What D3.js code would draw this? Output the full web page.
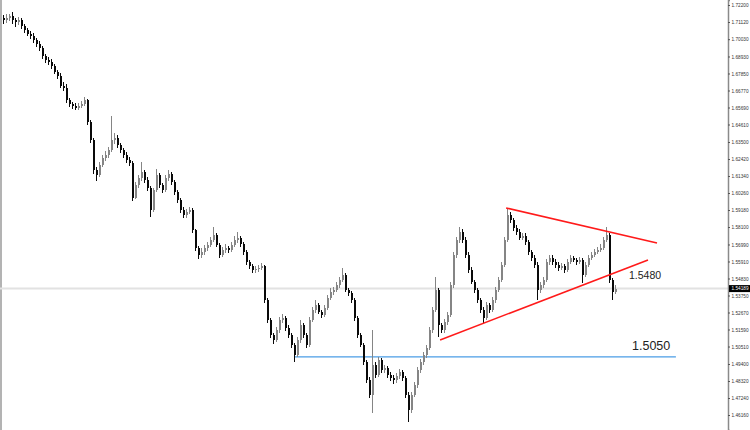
<!DOCTYPE html>
<html><head><meta charset="utf-8">
<script src="https://cdn.jsdelivr.net/npm/d3@7/dist/d3.min.js"></script>
<style>html,body{margin:0;padding:0;background:#fff;overflow:hidden}</style>
</head><body><svg id="c" width="750" height="430"></svg>
<script>
const closes = [
1.7125,1.7137,1.7150,1.7125,1.7112,1.7125,1.7087,1.7061,1.7036,1.7023,
1.6998,1.6972,1.6947,1.6896,1.6871,1.6858,1.6833,1.6795,1.6769,1.6706,
1.6693,1.6617,1.6591,1.6579,1.6566,1.6579,1.6591,1.6617,1.6477,1.6363,
1.6172,1.6141,1.6204,1.6249,1.6268,1.6299,1.6363,1.6376,1.6331,1.6299,
1.6268,1.6236,1.6217,1.5995,1.6077,1.6122,1.6160,1.6109,1.6058,1.5918,
1.6045,1.6141,1.6077,1.6045,1.6122,1.6147,1.6096,1.6033,1.5982,1.5918,
1.5887,1.5906,1.5918,1.5791,1.5677,1.5633,1.5652,1.5677,1.5696,1.5728,
1.5760,1.5696,1.5633,1.5664,1.5677,1.5664,1.5696,1.5728,1.5741,1.5702,
1.5652,1.5588,1.5563,1.5537,1.5543,1.5550,1.5563,1.5347,1.5220,1.5125,
1.5093,1.5156,1.5220,1.5233,1.5169,1.5125,1.5061,1.4998,1.5093,1.5188,
1.5125,1.5061,1.5220,1.5283,1.5315,1.5271,1.5252,1.5296,1.5360,1.5398,
1.5410,1.5442,1.5474,1.5506,1.5410,1.5391,1.5347,1.5233,1.5125,1.5061,
1.4953,1.4839,1.4744,1.4934,1.4871,1.4966,1.4902,1.4915,1.4871,1.4852,
1.4839,1.4864,1.4890,1.4852,1.4744,1.4648,1.4744,1.4807,1.4902,1.4953,
1.4998,1.5042,1.5156,1.5283,1.5410,1.5188,1.5156,1.5207,1.5252,1.5442,
1.5633,1.5728,1.5779,1.5728,1.5633,1.5537,1.5461,1.5410,1.5347,1.5283,
1.5233,1.5315,1.5283,1.5347,1.5410,1.5474,1.5569,1.5728,1.5887,1.5855,
1.5804,1.5779,1.5741,1.5753,1.5715,1.5652,1.5614,1.5569,1.5410,1.5442,
1.5474,1.5588,1.5614,1.5588,1.5569,1.5550,1.5563,1.5537,1.5588,1.5614,
1.5601,1.5588,1.5601,1.5506,1.5569,1.5614,1.5633,1.5652,1.5664,1.5677,
1.5728,1.5760,1.5474,1.5398,1.5419];

const opens = [
1.7137,1.7125,1.7137,1.7150,1.7125,1.7112,1.7125,1.7087,1.7061,1.7036,
1.7023,1.6998,1.6972,1.6947,1.6896,1.6871,1.6858,1.6833,1.6795,1.6769,
1.6706,1.6693,1.6617,1.6591,1.6579,1.6566,1.6579,1.6591,1.6617,1.6477,
1.6363,1.6172,1.6141,1.6204,1.6249,1.6268,1.6299,1.6363,1.6376,1.6331,
1.6299,1.6268,1.6236,1.6217,1.5995,1.6077,1.6122,1.6160,1.6109,1.6058,
1.5918,1.6045,1.6141,1.6077,1.6045,1.6122,1.6147,1.6096,1.6033,1.5982,
1.5918,1.5887,1.5906,1.5918,1.5791,1.5677,1.5633,1.5652,1.5677,1.5696,
1.5728,1.5760,1.5696,1.5633,1.5664,1.5677,1.5664,1.5696,1.5728,1.5741,
1.5702,1.5652,1.5588,1.5563,1.5537,1.5543,1.5550,1.5563,1.5347,1.5220,
1.5125,1.5093,1.5156,1.5220,1.5233,1.5169,1.5125,1.5061,1.4998,1.5093,
1.5188,1.5125,1.5061,1.5220,1.5283,1.5315,1.5271,1.5252,1.5296,1.5360,
1.5398,1.5410,1.5442,1.5474,1.5506,1.5410,1.5391,1.5347,1.5233,1.5125,
1.5061,1.4953,1.4839,1.4744,1.4934,1.4871,1.4966,1.4902,1.4915,1.4871,
1.4852,1.4839,1.4864,1.4890,1.4852,1.4744,1.4648,1.4744,1.4807,1.4902,
1.4953,1.4998,1.5042,1.5156,1.5283,1.5410,1.5188,1.5156,1.5207,1.5252,
1.5442,1.5633,1.5728,1.5779,1.5728,1.5633,1.5537,1.5461,1.5410,1.5347,
1.5283,1.5233,1.5315,1.5283,1.5347,1.5410,1.5474,1.5569,1.5728,1.5887,
1.5855,1.5804,1.5779,1.5741,1.5753,1.5715,1.5652,1.5614,1.5569,1.5410,
1.5442,1.5474,1.5588,1.5614,1.5588,1.5569,1.5550,1.5563,1.5537,1.5588,
1.5614,1.5601,1.5588,1.5601,1.5506,1.5569,1.5614,1.5633,1.5652,1.5664,
1.5677,1.5728,1.5760,1.5474,1.5398];

const highs = [
1.7158,1.7160,1.7165,1.7176,1.7140,1.7145,1.7140,1.7100,1.7075,1.7055,
1.7040,1.7010,1.6990,1.6960,1.6910,1.6890,1.6875,1.6845,1.6810,1.6785,
1.6730,1.6720,1.6630,1.6605,1.6595,1.6600,1.6610,1.6636,1.6625,1.6490,
1.6375,1.6190,1.6225,1.6270,1.6290,1.6320,1.6515,1.6410,1.6395,1.6345,
1.6315,1.6285,1.6255,1.6230,1.6095,1.6140,1.6223,1.6175,1.6125,1.6070,
1.6060,1.6179,1.6155,1.6090,1.6140,1.6172,1.6160,1.6110,1.6045,1.5995,
1.5935,1.5925,1.5937,1.5930,1.5800,1.5690,1.5675,1.5695,1.5715,1.5745,
1.5810,1.5775,1.5710,1.5685,1.5700,1.5690,1.5715,1.5750,1.5779,1.5755,
1.5715,1.5665,1.5600,1.5575,1.5560,1.5570,1.5580,1.5570,1.5360,1.5235,
1.5140,1.5175,1.5240,1.5255,1.5245,1.5185,1.5140,1.5075,1.5110,1.5220,
1.5200,1.5140,1.5240,1.5300,1.5347,1.5330,1.5285,1.5315,1.5380,1.5420,
1.5430,1.5460,1.5495,1.5550,1.5520,1.5425,1.5405,1.5360,1.5245,1.5140,
1.5075,1.4965,1.4855,1.5156,1.4950,1.4985,1.4980,1.4935,1.4930,1.4890,
1.4870,1.4885,1.4910,1.4905,1.4865,1.4760,1.4760,1.4825,1.4920,1.4970,
1.5015,1.5060,1.5175,1.5300,1.5493,1.5425,1.5200,1.5225,1.5270,1.5460,
1.5650,1.5745,1.5810,1.5795,1.5745,1.5650,1.5555,1.5475,1.5425,1.5360,
1.5300,1.5335,1.5330,1.5365,1.5430,1.5490,1.5590,1.5745,1.5931,1.5905,
1.5870,1.5820,1.5795,1.5775,1.5770,1.5730,1.5665,1.5630,1.5585,1.5460,
1.5495,1.5610,1.5635,1.5630,1.5605,1.5585,1.5580,1.5575,1.5605,1.5635,
1.5625,1.5615,1.5620,1.5615,1.5585,1.5630,1.5650,1.5670,1.5685,1.5700,
1.5745,1.5810,1.5775,1.5485,1.5440];

const lows = [
1.7100,1.7105,1.7120,1.7098,1.7080,1.7090,1.7068,1.7045,1.7020,1.7005,
1.6980,1.6955,1.6930,1.6880,1.6850,1.6840,1.6815,1.6780,1.6750,1.6690,
1.6675,1.6600,1.6575,1.6560,1.6550,1.6550,1.6565,1.6580,1.6460,1.6345,
1.6145,1.6105,1.6125,1.6190,1.6230,1.6250,1.6285,1.6340,1.6315,1.6280,
1.6250,1.6215,1.6195,1.5975,1.5985,1.6060,1.6105,1.6090,1.6040,1.5874,
1.5905,1.6030,1.6060,1.6025,1.6030,1.6105,1.6080,1.6015,1.5965,1.5900,
1.5865,1.5870,1.5890,1.5775,1.5655,1.5610,1.5615,1.5635,1.5660,1.5680,
1.5715,1.5680,1.5615,1.5620,1.5645,1.5645,1.5650,1.5680,1.5710,1.5685,
1.5635,1.5570,1.5545,1.5520,1.5520,1.5525,1.5535,1.5330,1.5200,1.5105,
1.5065,1.5080,1.5140,1.5200,1.5150,1.5105,1.5040,1.4953,1.4985,1.5075,
1.5105,1.5040,1.5045,1.5205,1.5265,1.5255,1.5235,1.5240,1.5280,1.5345,
1.5380,1.5395,1.5425,1.5460,1.5395,1.5375,1.5330,1.5215,1.5105,1.5045,
1.4935,1.4820,1.4725,1.4629,1.4850,1.4855,1.4885,1.4880,1.4850,1.4830,
1.4815,1.4820,1.4845,1.4835,1.4725,1.4572,1.4630,1.4730,1.4790,1.4885,
1.4935,1.4980,1.5030,1.5140,1.5270,1.5110,1.5135,1.5140,1.5190,1.5240,
1.5425,1.5615,1.5710,1.5710,1.5615,1.5520,1.5445,1.5390,1.5330,1.5265,
1.5201,1.5220,1.5265,1.5270,1.5330,1.5395,1.5460,1.5555,1.5715,1.5835,
1.5785,1.5760,1.5725,1.5725,1.5695,1.5635,1.5595,1.5550,1.5347,1.5390,
1.5425,1.5460,1.5570,1.5570,1.5550,1.5530,1.5535,1.5520,1.5525,1.5575,
1.5585,1.5570,1.5575,1.5455,1.5490,1.5555,1.5600,1.5620,1.5640,1.5650,
1.5665,1.5715,1.5455,1.5347,1.5385];

const tickLabels = [1.72200,1.71120,1.70030,1.68930,1.67850,1.66770,1.65690,1.64610,1.63500,
1.62420,1.61340,1.60260,1.59180,1.58100,1.56990,1.55910,1.54830,1.53750,1.52670,
1.51590,1.50510,1.49400,1.48320,1.47240,1.46160,1.45080];

const currentPrice = 1.54189;
// trend lines as [bar index, price]
const upperTrend = [[167.7, 1.5931], [218, 1.5709]];
const lowerTrend = [[145.7, 1.5093], [215, 1.5601]];
const supportLine = [[97, 1.4985], [224.3, 1.4985]];
const levelLabels = ["1.5480", "1.5050"];

const W = 750, H = 430, axisX = 728;
const FONT = "Liberation Sans, Arial, sans-serif";
const svg = d3.select("#c");
const x = d3.scaleLinear().domain([0, closes.length - 1]).range([3, 615]);
const y = d3.scaleLinear().domain([1.45208, 1.72518]).range([H, 0]);

svg.append("rect").attr("width", W).attr("height", H).attr("fill", "#fff");

// left border
svg.append("line").attr("x1", 1).attr("x2", 1).attr("y1", 0).attr("y2", H)
  .attr("stroke", "#9a9a9a").attr("stroke-width", 1.5);

// current price line
svg.append("line").attr("x1", 0).attr("x2", axisX).attr("y1", y(currentPrice)).attr("y2", y(currentPrice))
  .attr("stroke", "#e2e2e2").attr("stroke-width", 2);

// support line
const line = d3.line().x(d => x(d[0])).y(d => y(d[1]));
svg.append("path").attr("d", line(supportLine)).attr("fill", "none")
  .attr("stroke", "#4a9de6").attr("stroke-width", 1.3);

// candles
const data = closes.map((c, i) => ({i, o: opens[i], h: highs[i], l: lows[i], c}));
const g = svg.append("g").attr("shape-rendering", "crispEdges");
data.forEach(d => {
  const cx = Math.round(x(d.i));
  const bull = d.c >= d.o;
  const col = bull ? "#858585" : "#0a0a0a";
  g.append("line").attr("x1", cx + 0.5).attr("x2", cx + 0.5)
    .attr("y1", y(d.h)).attr("y2", y(d.l)).attr("stroke", col).attr("stroke-width", 1);
  const top = y(Math.max(d.o, d.c)), bot = y(Math.min(d.o, d.c));
  g.append("rect").attr("x", cx).attr("width", 2)
    .attr("y", top).attr("height", Math.max(1, bot - top)).attr("fill", col);
});

// trend lines
[upperTrend, lowerTrend].forEach(t => {
  svg.append("path").attr("d", line(t)).attr("fill", "none")
    .attr("stroke", "#ff1a1a").attr("stroke-width", 1.6);
});

// level labels
svg.append("text").attr("x", 629).attr("y", y(+levelLabels[0]))
  .attr("font-family", FONT).attr("font-size", 10.5)
  .attr("fill", "#222").text(levelLabels[0]);
svg.append("text").attr("x", 632).attr("y", y(+levelLabels[1]) + 3.5)
  .attr("font-family", FONT).attr("font-size", 12.5)
  .attr("fill", "#222").text(levelLabels[1]);

// right axis
const axis = d3.axisRight(y).tickValues(tickLabels).tickSize(2).tickPadding(1.5)
  .tickFormat(d3.format(".5f"));
const ag = svg.append("g").attr("transform", `translate(${axisX},0)`).call(axis);
ag.select(".domain").attr("stroke", "#8a8a8a").attr("stroke-width", 1.5);
ag.selectAll(".tick line").attr("stroke", "#555");
ag.selectAll(".tick text").attr("font-family", FONT)
  .attr("font-size", 5).attr("fill", "#333")
  .attr("textLength", 17).attr("lengthAdjust", "spacingAndGlyphs");

// current price box
const py = y(currentPrice);
svg.append("rect").attr("x", axisX + 1).attr("y", py - 3.5).attr("width", W - axisX - 1).attr("height", 7)
  .attr("fill", "#000");
svg.append("text").attr("x", axisX + 3.5).attr("y", py).attr("dy", "0.35em")
  .attr("font-family", FONT).attr("font-size", 5)
  .attr("textLength", 17).attr("lengthAdjust", "spacingAndGlyphs")
  .attr("fill", "#fff").text(d3.format(".5f")(currentPrice));
</script></body></html>
